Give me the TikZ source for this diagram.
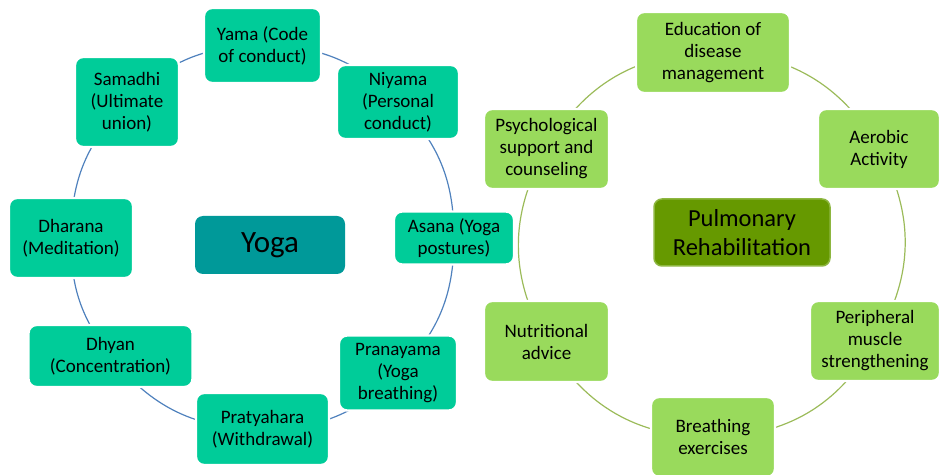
\documentclass[tikz,border=0pt]{standalone}
\usepackage{fontspec}
\setmainfont{Carlito}
\usetikzlibrary{backgrounds}
\definecolor{YogaLeaf}{HTML}{00CC99}
\definecolor{YogaCore}{HTML}{009999}
\definecolor{YogaLine}{HTML}{4F81BD}
\definecolor{RehabLeaf}{HTML}{99DA5C}
\definecolor{RehabCore}{HTML}{669900}
\definecolor{RehabEdge}{HTML}{8DB640}
\definecolor{RehabLine}{HTML}{9BBB59}

\begin{document}
\begin{tikzpicture}[x=1pt,y=1pt,font=\fontsize{19}{22}\selectfont,
  box/.style={rounded corners=8pt,align=center,inner sep=2pt,text=black},
  yogabox/.style={box,fill=YogaLeaf,draw=white,line width=2.4pt},
  rehabbox/.style={box,fill=RehabLeaf,draw=white,line width=2.4pt},
  yogalink/.style={YogaLine,line width=1.2pt},
  rehablink/.style={RehabLine,line width=1.2pt}]
  \useasboundingbox (0,0) rectangle (939,474);
  % yoga cycle
  \node[yogabox,minimum width=117pt,minimum height=75pt] (yama) at (262.5,428.5) {Yama (Code\\of conduct)};
  \node[yogabox,minimum width=122pt,minimum height=74pt] (niyama) at (398,372) {Niyama\\(Personal\\conduct)};
  \node[yogabox,minimum width=120pt,minimum height=53pt] (asana) at (454,236) {Asana (Yoga\\postures)};
  \node[yogabox,minimum width=118pt,minimum height=75pt] (pranayama) at (398,101) {Pranayama\\(Yoga\\breathing)};
  \node[yogabox,minimum width=133pt,minimum height=72pt] (pratyahara) at (262.5,45) {Pratyahara\\(Withdrawal)};
  \node[yogabox,minimum width=164pt,minimum height=62pt] (dhyan) at (110.5,118) {Dhyan\\(Concentration)};
  \node[yogabox,minimum width=124pt,minimum height=80pt] (dharana) at (71,236) {Dharana\\(Meditation)};
  \node[yogabox,minimum width=104pt,minimum height=90pt] (samadhi) at (127,372) {Samadhi\\(Ultimate\\union)};
  \node[box,fill=YogaCore,minimum width=150pt,minimum height=58pt,
    font=\fontsize{31}{36}\selectfont] (yoga) at (270,229) {Yoga};
  \begin{scope}[on background layer]
    \foreach \a/\b/\t in {yama/niyama/22.5,niyama/asana/22.5,asana/pranayama/22.5,
                          pranayama/pratyahara/22.5,pratyahara/dhyan/26,dhyan/dharana/19,
                          dharana/samadhi/22.5,samadhi/yama/22.5} {
      \draw[yogalink] (\a.center) to[bend left=\t] (\b.center);
    }
  \end{scope}
  % rehabilitation cycle
  \node[rehabbox,minimum width=154pt,minimum height=81pt] (education) at (713,421.5) {Education of\\disease\\management};
  \node[rehabbox,minimum width=122pt,minimum height=80pt] (aerobic) at (879,325) {Aerobic\\Activity};
  \node[rehabbox,minimum width=130pt,minimum height=80pt] (muscle) at (875,133) {Peripheral\\muscle\\strengthening};
  \node[rehabbox,minimum width=124pt,minimum height=80pt] (breathing) at (713,37) {Breathing\\exercises};
  \node[rehabbox,minimum width=125pt,minimum height=81pt] (nutrition) at (546.5,132.5) {Nutritional\\advice};
  \node[rehabbox,minimum width=125pt,minimum height=80pt] (psych) at (546.5,325) {Psychological\\support and\\counseling};
  \node[box,fill=RehabCore,draw=RehabEdge,line width=1.5pt,minimum width=176pt,minimum height=67pt,
    font=\fontsize{24.5}{29}\selectfont] (rehab) at (742,241.5) {Pulmonary\\Rehabilitation};
  \begin{scope}[on background layer]
    \foreach \a/\b in {education/aerobic,aerobic/muscle,muscle/breathing,
                       breathing/nutrition,nutrition/psych,psych/education} {
      \draw[rehablink] (\a.center) to[bend left=30] (\b.center);
    }
  \end{scope}
\end{tikzpicture}
\end{document}
